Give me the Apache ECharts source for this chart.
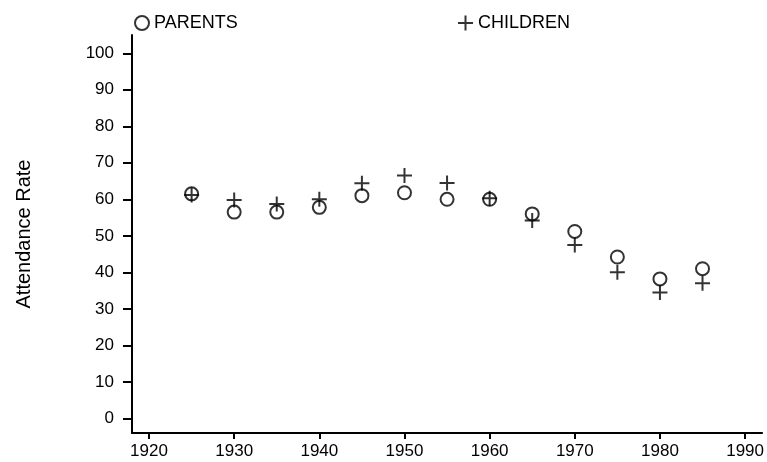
<!DOCTYPE html>
<html>
<head>
<meta charset="utf-8">
<script src="https://cdn.jsdelivr.net/npm/echarts@6/dist/echarts.min.js"></script>
<style>
  html, body { margin: 0; padding: 0; background: #fff; }
  #main { width: 767px; height: 462px; }
</style>
</head>
<body>
<div id="main"></div>
<script>
var years = [1925, 1930, 1935, 1940, 1945, 1950, 1955, 1960, 1965, 1970, 1975, 1980, 1985];
var parents = [61.5, 56.5, 56.5, 57.8, 61.0, 61.8, 60.0, 60.0, 56.0, 51.2, 44.2, 38.2, 41.0];
var children = [61.2, 59.8, 58.7, 60.0, 64.4, 66.5, 64.5, 60.3, 54.2, 47.5, 40.0, 34.5, 37.0];
var xTicks = [1920, 1930, 1940, 1950, 1960, 1970, 1980, 1990];
var yTicks = [0, 10, 20, 30, 40, 50, 60, 70, 80, 90, 100];

var pair = function (ys) {
  return years.map(function (y, i) { return [y, ys[i]]; });
};

var font = "'Liberation Sans', Arial, sans-serif";
var plus = 'path://M7,0L7,14M0,7L14,7';

var myChart = echarts.init(document.getElementById('main'));

var option = {
  animation: false,
  textStyle: { fontFamily: font, color: '#000' },
  legend: [{
    data: ['PARENTS'],
    left: 129,
    top: 9,
    itemWidth: 14,
    itemHeight: 14,
    itemGap: 5,
    textStyle: { fontFamily: font, fontSize: 18, color: '#000' }
  }, {
    data: ['CHILDREN'],
    left: 452,
    top: 9,
    itemWidth: 15,
    itemHeight: 15,
    textStyle: { fontFamily: font, fontSize: 18, color: '#000' }
  }],
  grid: { left: 132, right: 4, top: 35, bottom: 29 },
  xAxis: {
    type: 'value',
    min: 1918,
    max: 1992,
    axisLine: { onZero: false, lineStyle: { color: '#000', width: 2 } },
    axisTick: { length: 6, lineStyle: { color: '#000', width: 2 }, customValues: xTicks },
    axisLabel: {
      customValues: xTicks, fontSize: 17, color: '#000', margin: 10, fontFamily: font,
      formatter: function (v) { return String(v); }
    },
    splitLine: { show: false }
  },
  yAxis: {
    type: 'value',
    min: -4,
    max: 105,
    name: 'Attendance Rate',
    nameLocation: 'middle',
    nameGap: 98,
    nameTextStyle: { fontSize: 20, color: '#000', fontFamily: font },
    axisLine: { show: true, onZero: false, lineStyle: { color: '#000', width: 2 } },
    axisTick: { show: true, length: 9, lineStyle: { color: '#000', width: 2 }, customValues: yTicks },
    axisLabel: { customValues: yTicks, fontSize: 17, color: '#000', margin: 18, fontFamily: font },
    splitLine: { show: false }
  },
  series: [{
    name: 'PARENTS',
    type: 'scatter',
    symbol: 'circle',
    symbolSize: 13,
    itemStyle: { color: 'transparent', borderColor: '#000', borderWidth: 2 },
    data: pair(parents)
  }, {
    name: 'CHILDREN',
    type: 'scatter',
    symbol: plus,
    symbolSize: 15,
    itemStyle: { color: 'transparent', borderColor: '#000', borderWidth: 2 },
    data: pair(children)
  }]
};
myChart.setOption(option);
</script>
</body>
</html>
